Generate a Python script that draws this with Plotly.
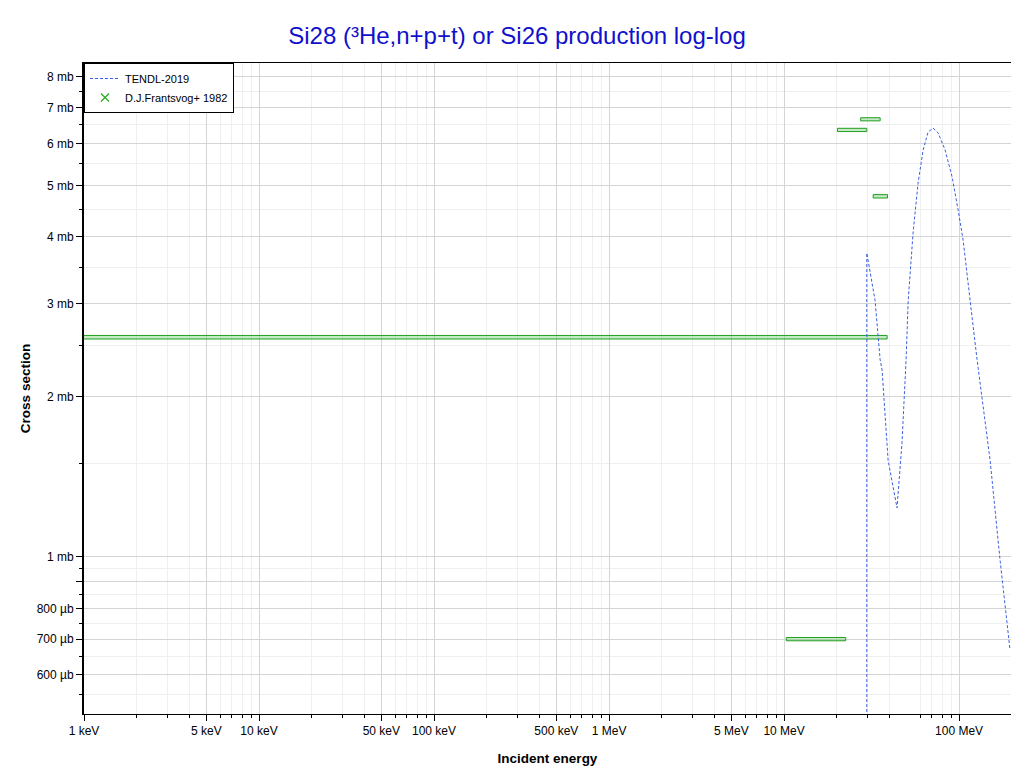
import plotly.graph_objects as go
import numpy as np

# TENDL-2019 evaluated curve (energy in MeV, cross section in mb)
tendl_E = [29.7, 29.7, 33.1, 35.4, 36.3, 39.3, 44.2, 47.2, 49.8, 51.2, 54.6, 58.3, 62.3,
           66.5, 71.0, 75.9, 83.2, 91.2, 98.7, 105.4, 115.6, 126.7, 150.4, 171.4, 195.5]
tendl_xs = [1e-4, 3.73, 3.04, 2.35, 2.25, 1.52, 1.236, 1.64, 2.35, 3.04, 4.07, 5.05, 5.83,
            6.30, 6.41, 6.28, 5.83, 5.19, 4.50, 3.95, 3.04, 2.35, 1.52, 0.987, 0.668]

# D.J.Frantsvog+ 1982 data: energy bins (MeV), cross section (mb) and uncertainty (mb)
exp_Elo = [0.0001, 20.2, 27.4, 32.3, 10.3]
exp_Ehi = [38.8, 29.7, 35.4, 39.0, 22.5]
exp_xs = [2.59, 6.36, 6.66, 4.77, 0.700]
exp_dxs = [0.02, 0.045, 0.045, 0.035, 0.005]

# axis ticks
x_tickvals_eV = [1e3, 5e3, 1e4, 5e4, 1e5, 5e5, 1e6, 5e6, 1e7, 1e8]
x_ticktext = ["1 keV", "5 keV", "10 keV", "50 keV", "100 keV", "500 keV",
              "1 MeV", "5 MeV", "10 MeV", "100 MeV"]
y_tickvals = [0.6, 0.7, 0.8, 0.9, 1, 2, 3, 4, 5, 6, 7, 8]
y_ticktext = ["600 µb", "700 µb", "800 µb", "", "1 mb", "2 mb", "3 mb", "4 mb",
              "5 mb", "6 mb", "7 mb", "8 mb"]
y_minor = [0.55, 0.65, 0.75, 0.85, 0.95, 1.5, 2.5, 3.5, 4.5, 5.5, 6.5, 7.5]
x_minor = [m * 10**d for d in range(3, 9) for m in [2, 3, 4, 6, 7, 8, 9]]

fig = go.Figure()

green_line = "#1f9e1f"
green_fill = "rgba(110,205,110,0.4)"
for lo, hi, v, dv in zip(exp_Elo, exp_Ehi, exp_xs, exp_dxs):
    xs = [lo * 1e6, hi * 1e6, hi * 1e6, lo * 1e6, lo * 1e6]
    ys = [v - dv, v - dv, v + dv, v + dv, v - dv]
    fig.add_trace(go.Scatter(x=xs, y=ys, mode="lines", fill="toself",
                             fillcolor=green_fill,
                             line=dict(color=green_line, width=1),
                             showlegend=False, hoverinfo="skip"))

fig.add_trace(go.Scatter(x=[e * 1e6 for e in tendl_E], y=tendl_xs, mode="lines",
                         name="TENDL-2019",
                         line=dict(color="#3a5fe0", width=1, dash="3px,2px")))

fig.add_trace(go.Scatter(x=[None], y=[None], mode="markers", name="D.J.Frantsvog+ 1982",
                         marker=dict(symbol="x-thin", size=8,
                                     line=dict(color="#22aa22", width=1.2),
                                     color="#22aa22")))

xr = [3, np.log10(1.98e8)]
yr = [np.log10(0.506), np.log10(8.5)]
font_fam = "Liberation Sans, Arial, sans-serif"

# the page body adds an 8 px offset; figure sized to fill the remaining window
fig.update_layout(
    width=1004, height=758,
    margin=dict(l=76, r=1, t=55, b=52),
    paper_bgcolor="white", plot_bgcolor="white",
    font=dict(family=font_fam, size=12, color="black"),
    title=dict(text="Si28 (³He,n+p+t) or Si26 production log-log",
               font=dict(family=font_fam, size=24, color="#1010cc"),
               x=0.507, xref="container", xanchor="center",
               y=0.964, yref="container", yanchor="middle"),
    showlegend=True,
    legend=dict(x=0, y=1, xanchor="left", yanchor="top",
                bgcolor="white", bordercolor="black", borderwidth=1,
                font=dict(size=11, family=font_fam), tracegroupgap=0,
                itemwidth=30),
    xaxis=dict(type="log", range=xr, tickmode="array", automargin=False,
               tickvals=x_tickvals_eV, ticktext=x_ticktext,
               ticks="outside", ticklen=6, tickcolor="black",
               showline=True, linecolor="black", linewidth=1, mirror=True,
               showgrid=True, gridcolor="#d4d4d4", gridwidth=1,
               minor=dict(tickvals=x_minor, ticks="outside", ticklen=3,
                          tickcolor="black", showgrid=True, gridcolor="#efefef"),
               zeroline=False,
               title=dict(text="<b>Incident energy</b>", font=dict(size=13.5), standoff=16)),
    yaxis=dict(type="log", range=yr, tickmode="array", automargin=False,
               tickvals=y_tickvals, ticktext=y_ticktext,
               ticks="outside", ticklen=6, tickcolor="black",
               showline=True, linecolor="black", linewidth=2, mirror=False,
               showgrid=True, gridcolor="#d4d4d4", gridwidth=1,
               minor=dict(tickvals=y_minor, ticks="outside", ticklen=3,
                          tickcolor="black", showgrid=True, gridcolor="#efefef"),
               zeroline=False,
               title=dict(text="<b>Cross section</b>", font=dict(size=13.5), standoff=3)),
    yaxis2=dict(type="log", range=yr, overlaying="y", side="right", automargin=False,
                tickmode="array", tickvals=y_tickvals, showticklabels=False,
                ticks="inside", ticklen=6, tickcolor="#333",
                showline=True, linecolor="#444", linewidth=2,
                showgrid=False, zeroline=False),
)

fig.write_html("out.html")
